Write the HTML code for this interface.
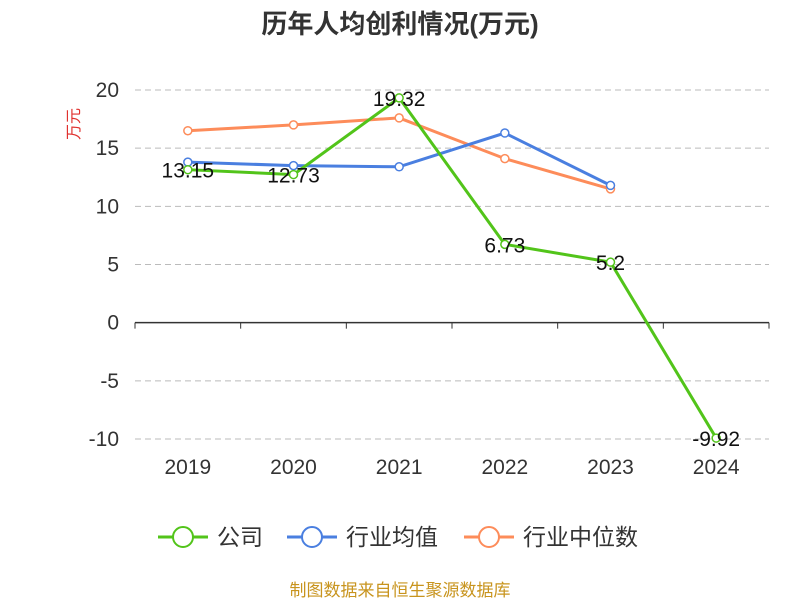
<!DOCTYPE html>
<html><head><meta charset="utf-8"><style>
body{margin:0;background:#fff;}
svg text{font-family:"Liberation Sans","Noto Sans CJK SC",sans-serif;}
</style></head><body>
<svg id="chart" width="800" height="600" viewBox="0 0 800 600" xmlns="http://www.w3.org/2000/svg">
<text x="400" y="33" text-anchor="middle" font-size="26" font-weight="bold" fill="#333">历年人均创利情况(万元)</text>
<text transform="translate(79,124) rotate(-90)" text-anchor="middle" font-size="16" fill="#e0312e">万元</text>
<g id="grid"></g><g id="axes"></g><g id="series"></g>
<g id="legend"></g>
<text x="400" y="596" text-anchor="middle" font-size="17" fill="#c8941e">制图数据来自恒生聚源数据库</text>
</svg>
<script>
const categories=["2019","2020","2021","2022","2023","2024"];
const companyValues=[13.15,12.73,19.32,6.73,5.2,-9.92];
const industryAvg=[13.8,13.5,13.4,16.3,11.8];
const industryMedian=[16.5,17.0,17.6,14.1,11.5];
const yTicks=[20,15,10,5,0,-5,-10];
const seriesNames=["公司","行业均值","行业中位数"];
const NS="http://www.w3.org/2000/svg";
const x0=135,x1=769,yTop=90,yBot=439,vMax=20,vMin=-10;
const band=(x1-x0)/categories.length;
const xs=i=>x0+band*(i+0.5);
const ys=v=>yTop+(vMax-v)/(vMax-vMin)*(yBot-yTop);
function mk(tag,attrs,parent){const e=document.createElementNS(NS,tag);for(const k in attrs)e.setAttribute(k,attrs[k]);parent.appendChild(e);return e;}
const grid=document.getElementById('grid'),axes=document.getElementById('axes'),ser=document.getElementById('series'),leg=document.getElementById('legend');
yTicks.forEach(t=>{
 const y=ys(t);
 if(t!==0){const l=mk('line',{x1:x0,x2:x1,y1:y,y2:y,stroke:'#bbb','stroke-dasharray':'6,4'},grid);
 
 }
 const tx=mk('text',{x:119,y:y+7,'text-anchor':'end','font-size':21,fill:'#333'},axes);tx.textContent=t;
 
 
});
const y0=ys(0);
const ax=mk('line',{x1:x0,x2:x1,y1:y0,y2:y0,stroke:'#333','stroke-width':1.5},axes);


for(let i=0;i<=categories.length;i++){const x=x0+band*i;const t=mk('line',{x1:x,x2:x,y1:y0,y2:y0+6,stroke:'#333'},axes);
 
 }
categories.forEach((c,i)=>{const t=mk('text',{x:xs(i),y:474,'text-anchor':'middle','font-size':21,fill:'#333'},axes);t.textContent=c;
 
 });
function drawLine(vals,color,name,labels){
 const g=mk('g',{},ser);
 
 
 const pts=vals.map((v,i)=>xs(i)+','+ys(v)).join(' ');
 mk('polyline',{points:pts,fill:'none',stroke:color,'stroke-width':3},g);
 vals.forEach((v,i)=>{const c=mk('circle',{cx:xs(i),cy:ys(v),r:4,fill:'#fff',stroke:color,'stroke-width':1.5},g);
  
  
  if(labels){const t=mk('text',{x:xs(i),y:ys(v)+8,'text-anchor':'middle','font-size':21,fill:'#111'},g);t.textContent=v;
   
   }
 });
}
drawLine(industryMedian,'#fd8c5a','industry-median-series',false);
drawLine(industryAvg,'#4a7fe0','industry-avg-series',false);
drawLine(companyValues,'#52c41a','company-series',true);
const legColors=['#52c41a','#4a7fe0','#fd8c5a'];const legX=[158,287,464];
seriesNames.forEach((n,i)=>{
 const g=mk('g',{},leg);
 
 
 mk('line',{x1:legX[i],x2:legX[i]+50,y1:537,y2:537,stroke:legColors[i],'stroke-width':3},g);
 mk('circle',{cx:legX[i]+25,cy:537,r:10,fill:'#fff',stroke:legColors[i],'stroke-width':2},g);
 const t=mk('text',{x:legX[i]+59,y:545,'font-size':23,fill:'#333'},g);t.textContent=n;
});
</script>
</body></html>
